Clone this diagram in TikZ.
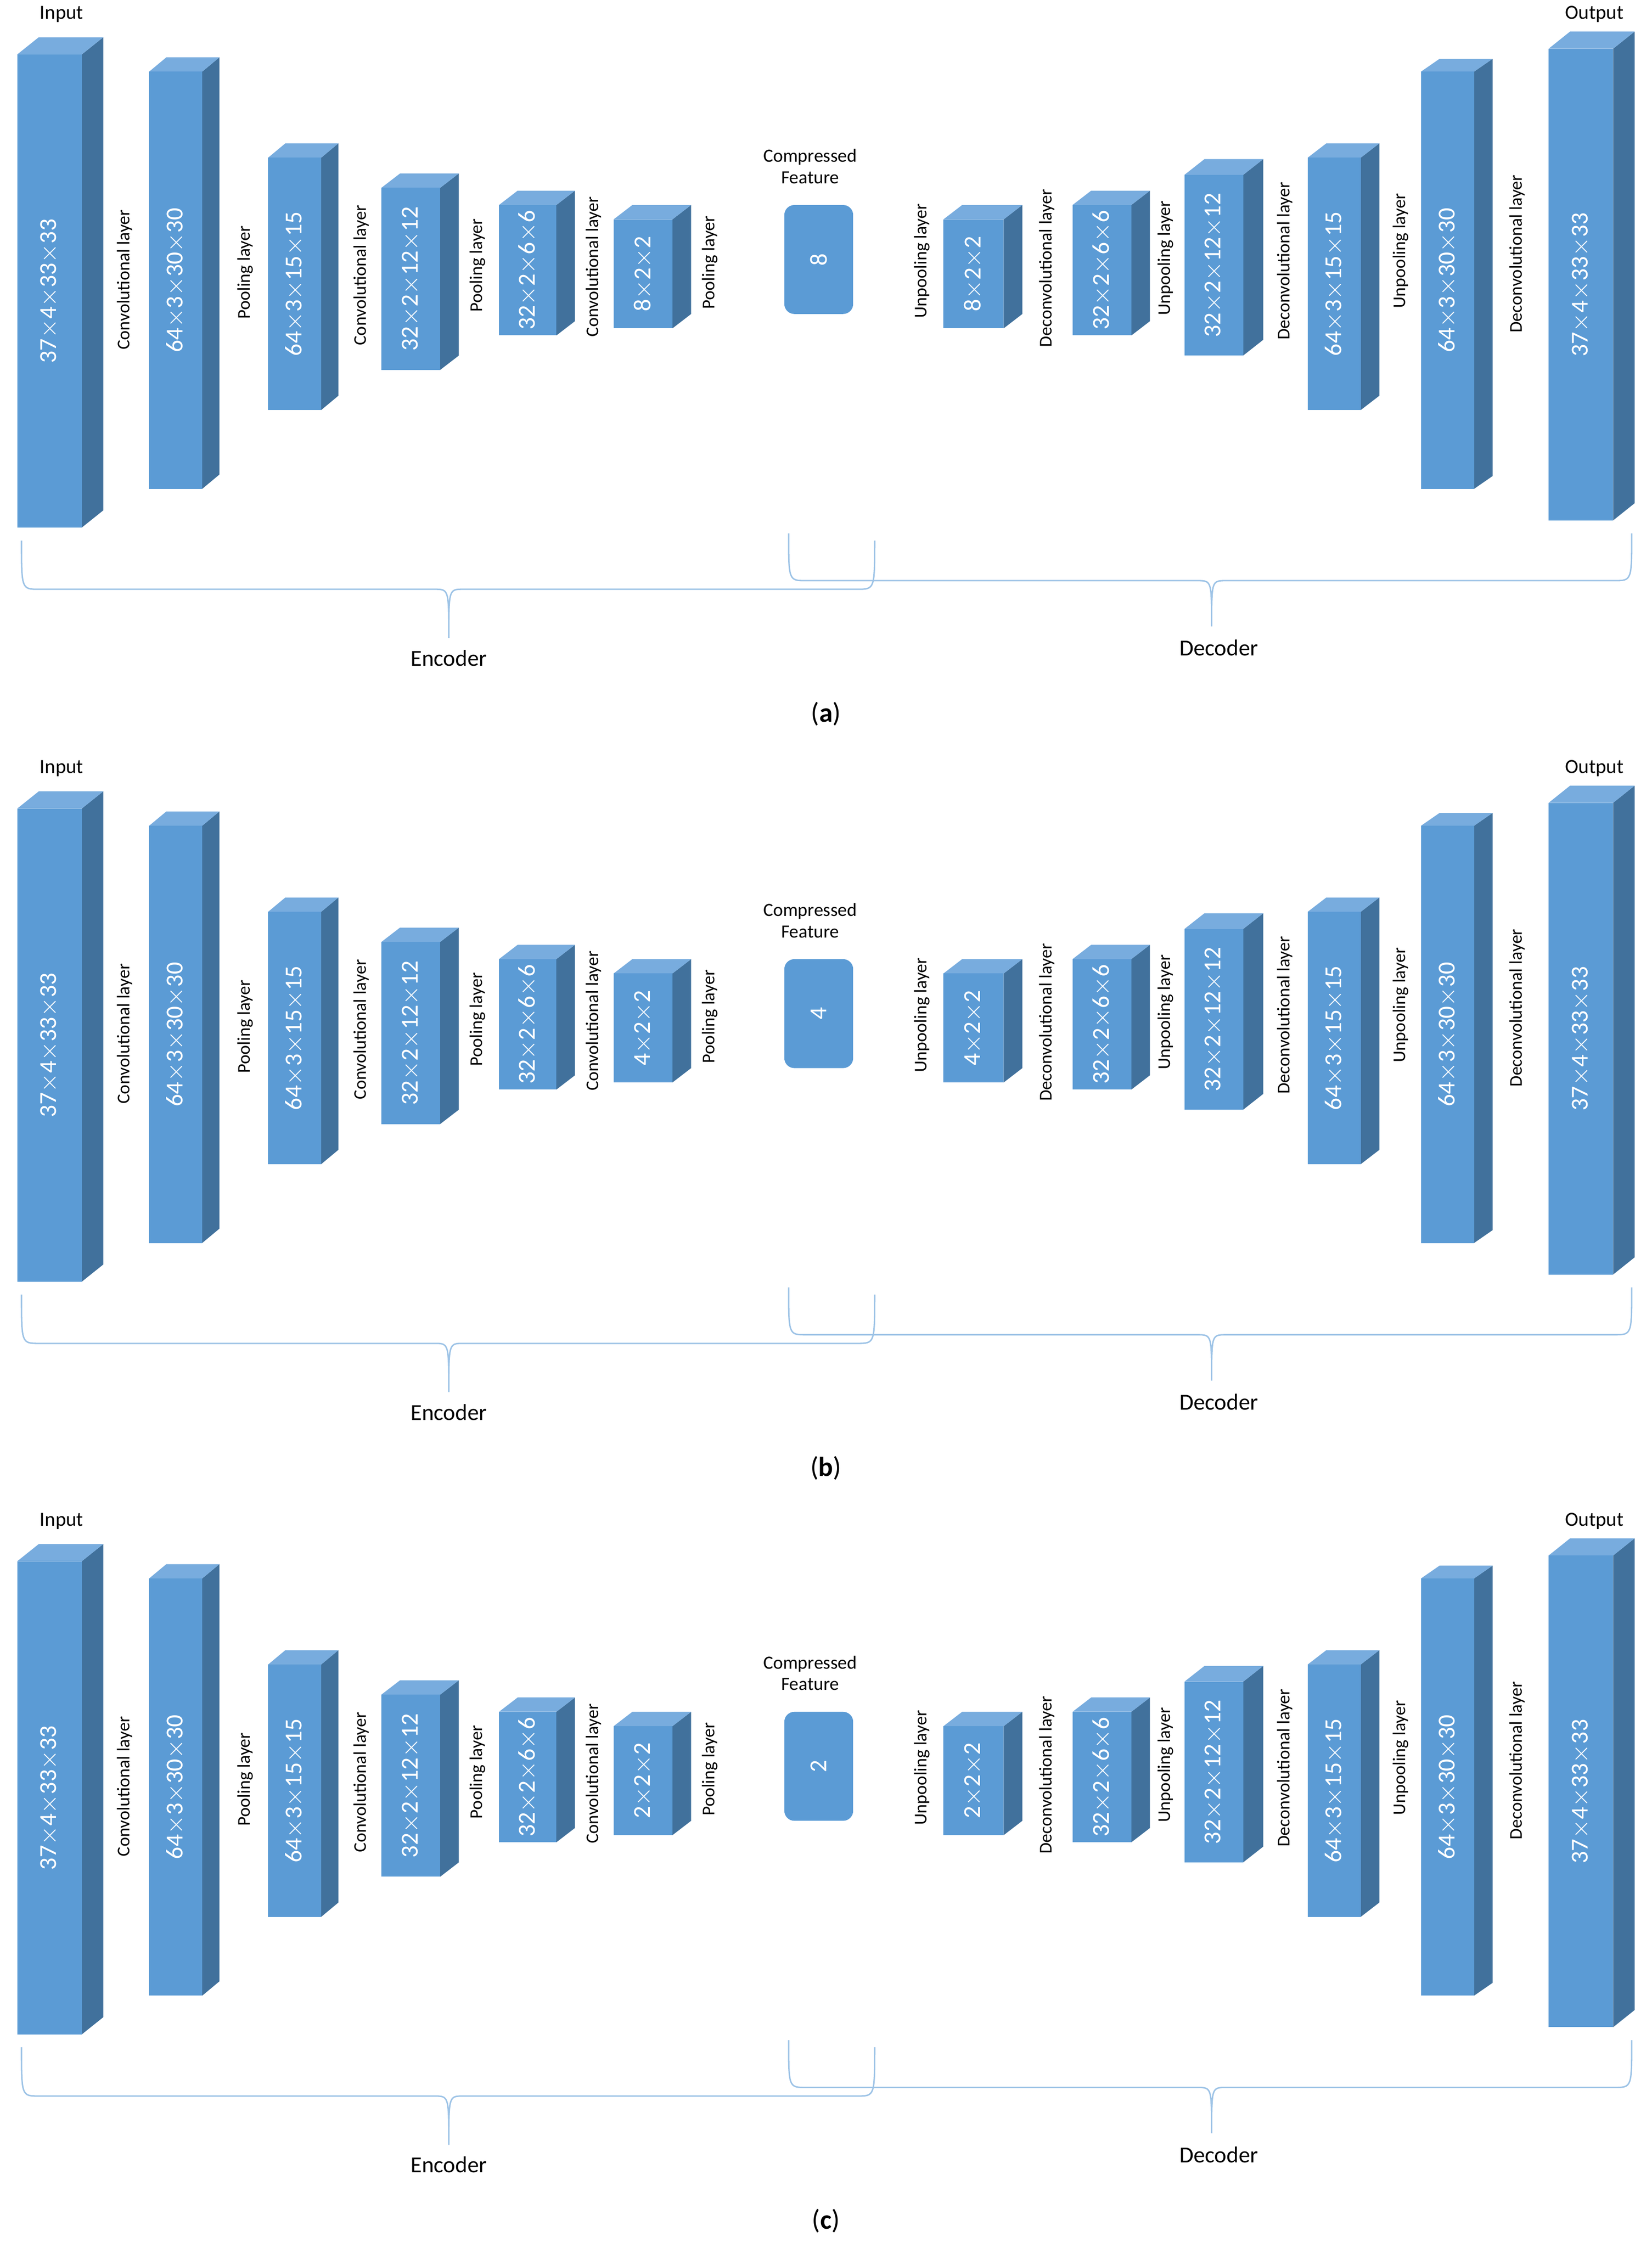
\documentclass[tikz,border=0pt]{standalone}
\usepackage{fontspec}
\setmainfont{Carlito}
\begin{document}
\begin{tikzpicture}[x=1pt,y=-1pt,
  front/.style={fill={rgb,255:red,91;green,155;blue,213}},
  topf/.style={fill={rgb,255:red,120;green,172;blue,222}},
  sidef/.style={fill={rgb,255:red,65;green,113;blue,156}},
  btxt/.style={text=white,rotate=90,font=\fontsize{17}{17}\selectfont},
  ltxt/.style={rotate=90,font=\fontsize{12.5}{13}\selectfont},
  brc/.style={draw={rgb,255:red,157;green,195;blue,230},line width=1pt},
  ttl/.style={font=\fontsize{16}{16}\selectfont}]
\useasboundingbox (0,0) rectangle (1152,1568);
\newcommand\blk[8]{%
  \fill[sidef] (#2,#3)--(#2+#5,#3-#6)--(#2+#5,#4-#6)--(#2,#4)--cycle;
  \fill[topf] (#1,#3)--(#1+#5,#3-#6)--(#2+#5,#3-#6)--(#2,#3)--cycle;
  \fill[front] (#1,#3) rectangle (#2,#4);
  \node[btxt] (#8) at ({(#1+#2)/2},{(#3+#4)/2}) {#7};}
\newcommand\brc[6]{%
  \draw[brc] (#1,#4) .. controls (#1,#5) .. (#1+12,#5) -- (#3-10,#5) .. controls (#3,#5) .. (#3,#6)
     .. controls (#3,#5) .. (#3+10,#5) -- (#2-12,#5) .. controls (#2,#5) .. (#2,#4);}
\newcommand\panel[4]{%
\begin{scope}[yshift=-#1pt]
  \node[ttl,font=\fontsize{14}{14}\selectfont] (in#4) at (43,10) {Input};
  \node[ttl,font=\fontsize{14}{14}\selectfont] (out#4) at (1112,10) {Output};
  \blk{12}{57}{38}{368}{15}{12}{37$\times$4$\times$33$\times$33}{b1#4}
  \blk{104}{141}{50}{341}{12}{10}{64$\times$3$\times$30$\times$30}{b2#4}
  \blk{187}{224}{110}{286}{12}{10}{64$\times$3$\times$15$\times$15}{b3#4}
  \blk{266}{307}{131}{258}{13}{10}{32$\times$2$\times$12$\times$12}{b4#4}
  \blk{348}{388}{143}{234}{13}{10}{32$\times$2$\times$6$\times$6}{b5#4}
  \blk{428}{469}{153}{229}{13}{10}{#3$\times$2$\times$2}{b6#4}
  \fill[front,rounded corners=7pt] (547,143) rectangle (595,219);
  \node[btxt] (cf#4) at (571,181) {#2};
  \node[align=center,font=\fontsize{13}{15}\selectfont] (cft#4) at (565,116) {Compressed\\Feature};
  \blk{658}{700}{153}{229}{13}{10}{#3$\times$2$\times$2}{d1#4}
  \blk{748}{789}{143}{234}{13}{10}{32$\times$2$\times$6$\times$6}{d2#4}
  \blk{826}{867}{122}{248}{14}{11}{32$\times$2$\times$12$\times$12}{d3#4}
  \blk{912}{949}{110}{286}{13}{10}{64$\times$3$\times$15$\times$15}{d4#4}
  \blk{991}{1028}{50}{341}{13}{9}{64$\times$3$\times$30$\times$30}{d5#4}
  \blk{1080}{1125}{34}{363}{15}{12}{37$\times$4$\times$33$\times$33}{d6#4}
  \node[ltxt] (l1#4) at (87,195) {Convolutional layer};
  \node[ltxt] (l2#4) at (171,190) {Pooling layer};
  \node[ltxt] (l3#4) at (252,192) {Convolutional layer};
  \node[ltxt] (l4#4) at (333,185) {Pooling layer};
  \node[ltxt] (l5#4) at (414,186) {Convolutional layer};
  \node[ltxt] (l6#4) at (495,183) {Pooling layer};
  \node[ltxt] (m1#4) at (643,182) {Unpooling layer};
  \node[ltxt] (m2#4) at (730,187) {Deconvolutional layer};
  \node[ltxt] (m3#4) at (813,180) {Unpooling layer};
  \node[ltxt] (m4#4) at (896,182) {Deconvolutional layer};
  \node[ltxt] (m5#4) at (977,175) {Unpooling layer};
  \node[ltxt] (m6#4) at (1058,177) {Deconvolutional layer};
  \brc{15}{610}{313}{377}{411}{445}
  \brc{550}{1138}{845}{372}{405}{437}
  \node[ttl] (enc#4) at (313,459) {Encoder};
  \node[ttl] (dec#4) at (850,452) {Decoder};
  \node[font=\fontsize{19}{19}\selectfont] (cap#4) at (576,498) {(\textbf{#4})};
\end{scope}}
\panel{0}{8}{8}{a}
\panel{526}{4}{4}{b}
\panel{1051}{2}{2}{c}
\end{tikzpicture}
\end{document}
